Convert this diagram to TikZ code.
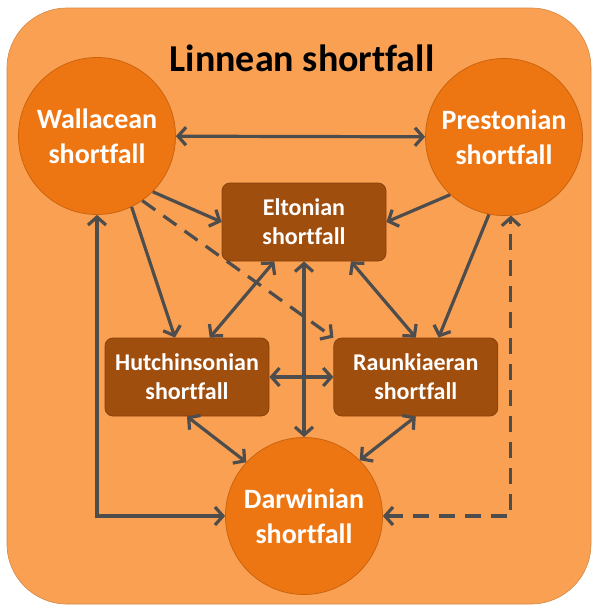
\documentclass[tikz,border=0pt]{standalone}
\usepackage{fontspec}
\setmainfont{Carlito}[Ligatures=NoCommon]
\usetikzlibrary{arrows.meta, positioning}
\definecolor{panelorange}{RGB}{250,160,82}
\definecolor{circorange}{RGB}{238,118,18}
\definecolor{boxbrown}{RGB}{160,78,14}
\definecolor{arrowgrey}{RGB}{77,77,77}

\begin{document}
\begin{tikzpicture}[
    x=1pt, y=-1pt,
    circ/.style={circle, draw=circorange!85!black, line width=0.8pt, fill=circorange, minimum size=157pt, inner sep=0pt, align=center, text=white, font=\bfseries\fontsize{28}{35}\selectfont},
    block/.style={rectangle, draw=boxbrown!85!black, line width=0.8pt, fill=boxbrown, minimum width=164pt, minimum height=78pt, rounded corners=8pt, align=center, text=white, font=\bfseries\fontsize{24}{29}\selectfont},
    arrow/.style={-{Straight Barb[length=8pt, width=18pt]}, line width=3.2pt, draw=arrowgrey},
    both/.style={arrow, {Straight Barb[length=8pt, width=18pt]}-{Straight Barb[length=8pt, width=18pt]}},
    dashedline/.style={dash pattern=on 16pt off 10pt}
]
\useasboundingbox (0,0) rectangle (596,608);
\filldraw[fill=panelorange, draw=panelorange!85!black, line width=0.6pt, rounded corners=60pt] (7,8) rectangle (591,604);

\node[font=\bfseries\fontsize{38}{46}\selectfont] (title) at (302,58) {Linnean shortfall};

\node[circ] (wall) at (97,136) {Wallacean\\shortfall};
\node[circ] (prest) at (504,137) {Prestonian\\shortfall};
\node[circ] (darw) at (304,516) {Darwinian\\shortfall};
\node[block] (elton) at (304,222) {Eltonian\\shortfall};
\node[block] (hutch) at (187,377) {Hutchinsonian\\shortfall};
\node[block, right=64pt of hutch] (raunk) {Raunkiaeran\\shortfall};

\draw[both] (wall) -- (prest);
\draw[arrow] (wall.-45) -- (elton.west);
\draw[arrow] (wall.-64) -- (hutch.107);
\draw[arrow, dashedline] (wall.-55) -- (raunk.north west);
\draw[arrow] (prest.-133) -- (elton.east);
\draw[arrow] (prest.-101) -- (raunk.60);
\draw[both] (elton.-127) -- (hutch.60);
\draw[both] (elton.-40) -- (raunk.north);
\draw[both] (elton) -- (darw);
\draw[both] (hutch) -- (raunk);
\draw[both] (hutch.south) -- (darw.137);
\draw[both] (raunk.south) -- (darw.45);
\draw[both] (wall.south) |- (darw.west);
\draw[both, dashedline] (darw.east) -| (prest.-85);
\end{tikzpicture}
\end{document}
